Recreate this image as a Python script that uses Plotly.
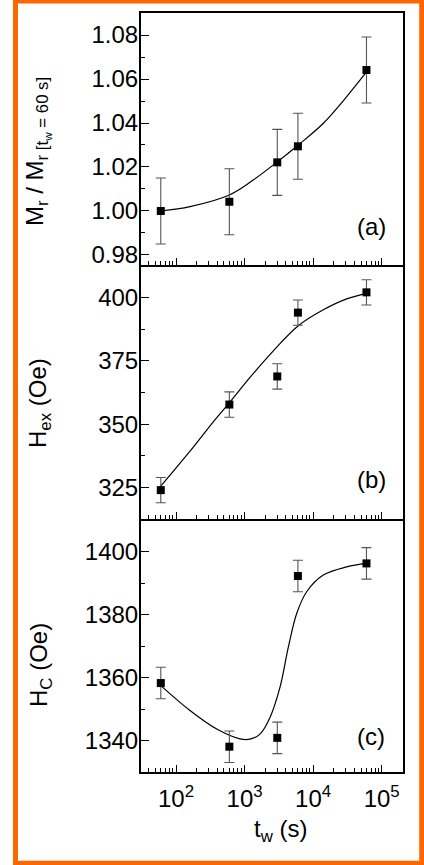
import plotly.graph_objects as go
from plotly.subplots import make_subplots

# ---------------- data ----------------
tw = [60, 600, 3000, 6000, 60000]

mr_ratio = [1.000, 1.0042, 1.0221, 1.0294, 1.0641]
mr_err = [0.015, 0.015, 0.015, 0.015, 0.015]

hex_vals = [324.0, 357.8, 368.9, 394.1, 402.1]
hex_err = [5, 5, 5, 5, 5]

hc_vals = [1358.3, 1338.1, 1340.9, 1392.3, 1396.3]
hc_err = [5, 5, 5, 5, 5]

# fitted guide curves
fit_a_x = [60, 160, 600, 1340, 2940, 6080, 14100, 30900, 60500]
fit_a_y = [1.000, 1.002, 1.0073, 1.0141, 1.0221, 1.0300, 1.0399, 1.0520, 1.0633]

fit_b_x = [60, 160, 350, 600, 1200, 2630, 6080, 14100, 30900, 60500]
fit_b_y = [325.6, 339.4, 351.0, 358.5, 368.5, 379.0, 388.9, 395.2, 399.5, 401.7]

fit_c_x = [60, 160, 393, 857, 1200, 1680, 2350, 3290, 4350, 5760, 8050, 14100, 30900, 60500]
fit_c_y = [1357.5, 1349.6, 1343.7, 1340.6, 1340.5, 1342.1, 1347.4, 1357.0, 1369.7,
           1380.4, 1387.3, 1392.6, 1395.2, 1396.3]

x_major = [100, 1000, 10000, 100000]
x_major_text = ["10<sup>2</sup>", "10<sup>3</sup>", "10<sup>4</sup>", "10<sup>5</sup>"]
x_minor = [m * 10 ** d for d in range(1, 5) for m in range(2, 10) if 30 <= m * 10 ** d <= 200000]

ya_major = [0.98, 1.00, 1.02, 1.04, 1.06, 1.08]
ya_text = ["0.98", "1.00", "1.02", "1.04", "1.06", "1.08"]
ya_minor = [0.99, 1.01, 1.03, 1.05, 1.07]

yb_major = [325, 350, 375, 400]
yb_minor = [337.5, 362.5, 387.5]

yc_major = [1340, 1360, 1380, 1400]
yc_minor = [1350, 1370, 1390]

panel_labels = ["(a)", "(b)", "(c)"]

# ---------------- figure ----------------
FONT = "Liberation Sans, Arial, Helvetica, sans-serif"
W, H = 424, 865
L, R, T, B = 141, 21, 13, 93
pw, ph = W - L - R, H - T - B


def px(x):
    return (x - L) / pw


def py(y):
    return (H - B - y) / ph


fig = make_subplots(rows=3, cols=1, shared_xaxes=True, vertical_spacing=0)

panels = [
    (tw, mr_ratio, mr_err, fit_a_x, fit_a_y),
    (tw, hex_vals, hex_err, fit_b_x, fit_b_y),
    (tw, hc_vals, hc_err, fit_c_x, fit_c_y),
]

for i, (x, y, e, fx, fy) in enumerate(panels, start=1):
    fig.add_trace(go.Scatter(
        x=fx, y=fy, mode="lines",
        line=dict(color="black", width=1.2, shape="spline", smoothing=1.0),
        showlegend=False, hoverinfo="skip"), row=i, col=1)
    fig.add_trace(go.Scatter(
        x=x, y=y, mode="markers",
        marker=dict(symbol="square", size=8, color="black"),
        error_y=dict(type="data", array=e, color="#555555", thickness=1.1, width=5),
        showlegend=False), row=i, col=1)

xcommon = dict(
    type="log", range=[1.4895, 5.311],
    showline=True, linewidth=2, linecolor="black",
    ticks="inside", tickmode="array", tickvals=x_major, ticklen=7, tickwidth=1.3,
    tickcolor="black",
    minor=dict(ticks="inside", tickmode="array", tickvals=x_minor, ticklen=4,
               tickwidth=1.1, tickcolor="black", showgrid=False),
    showgrid=False, zeroline=False,
    tickfont=dict(family=FONT, size=24, color="black"),
)
for i in (1, 2, 3):
    fig.update_xaxes(**xcommon, row=i, col=1)
fig.update_xaxes(showticklabels=False, mirror=True, row=1, col=1)
fig.update_xaxes(showticklabels=False, mirror=False, row=2, col=1)
fig.update_xaxes(showticklabels=True, mirror=False, ticktext=x_major_text,
                 ticklabelstandoff=4, row=3, col=1)

ycommon = dict(
    showline=True, linewidth=2, linecolor="black", mirror=True,
    ticks="inside", tickmode="array", ticklen=8, tickwidth=1.3, tickcolor="black",
    showgrid=False, zeroline=False, ticklabelstandoff=-4,
    tickfont=dict(family=FONT, size=24, color="black"),
)
fig.update_yaxes(**ycommon, range=[0.97545, 1.09], tickvals=ya_major, ticktext=ya_text,
                 minor=dict(ticks="inside", tickmode="array", tickvals=ya_minor, ticklen=4,
                            tickwidth=1.1, tickcolor="black", showgrid=False),
                 domain=[py(265), 1.0], row=1, col=1)
fig.update_yaxes(**ycommon, range=[312.6, 412.9], tickvals=yb_major,
                 minor=dict(ticks="inside", tickmode="array", tickvals=yb_minor, ticklen=4,
                            tickwidth=1.1, tickcolor="black", showgrid=False),
                 domain=[py(519), py(265)], row=2, col=1)
fig.update_yaxes(**ycommon, range=[1330.06, 1410.4], tickvals=yc_major,
                 minor=dict(ticks="inside", tickmode="array", tickvals=yc_minor, ticklen=4,
                            tickwidth=1.1, tickcolor="black", showgrid=False),
                 domain=[0.0, py(519)], row=3, col=1)

annots = []
# panel labels
for lab, yc in zip(panel_labels, [226.7, 479, 736]):
    annots.append(dict(text=lab, x=px(371), y=py(yc), xref="paper", yref="paper",
                       showarrow=False, xanchor="center", yanchor="middle",
                       font=dict(family=FONT, size=24, color="black")))
# y titles
ytitles = [
    ("M<sub>r</sub> / M<sub>r [t<sub>w</sub> = 60 s]</sub>", 37, 152),
    ("H<sub>ex</sub> (Oe)", 40, 403),
    ("H<sub>C</sub> (Oe)", 40, 665),
]
for txt, xc, yc in ytitles:
    annots.append(dict(text=txt, x=px(xc), y=py(yc), xref="paper", yref="paper",
                       showarrow=False, textangle=-90, xanchor="center", yanchor="middle",
                       font=dict(family=FONT, size=24, color="black")))
# x title
annots.append(dict(text="t<sub>w</sub> (s)", x=px(280), y=py(831), xref="paper", yref="paper",
                   showarrow=False, xanchor="center", yanchor="middle",
                   font=dict(family=FONT, size=24, color="black")))

frame = dict(type="rect", xref="paper", yref="paper",
             x0=px(15.5), x1=px(421.7), y0=py(863.3), y1=py(1.0),
             line=dict(color="#ff6600", width=5), fillcolor="rgba(0,0,0,0)", layer="above")

fig.update_layout(
    width=W, height=H,
    margin=dict(l=L, r=R, t=T, b=B),
    paper_bgcolor="white", plot_bgcolor="white",
    annotations=annots, shapes=[frame],
    showlegend=False,
)

fig.write_html("out.html")
